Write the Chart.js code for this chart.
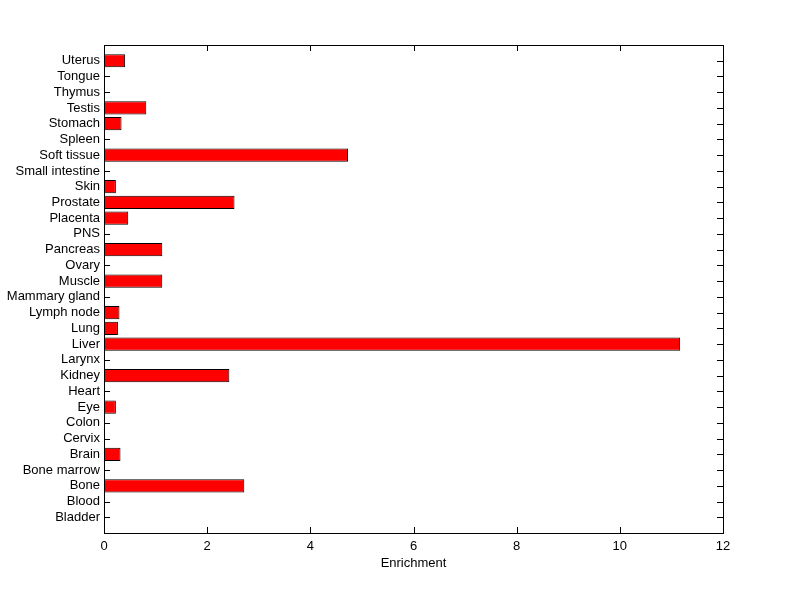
<!DOCTYPE html>
<html>
<head>
<meta charset="utf-8">
<script src="https://cdn.jsdelivr.net/npm/chart.js@4"></script>
<style>
  html, body { margin: 0; padding: 0; background: #fff; }
  #wrap { width: 800px; height: 599px; }
</style>
</head>
<body>
<div id="wrap"><canvas id="barCanvas"></canvas></div>
<script>
// tissues, listed bottom to top as in the figure
const tissues = ["Bladder", "Blood", "Bone", "Bone marrow", "Brain", "Cervix", "Colon", "Eye",
    "Heart", "Kidney", "Larynx", "Liver", "Lung", "Lymph node", "Mammary gland", "Muscle",
    "Ovary", "Pancreas", "PNS", "Placenta", "Prostate", "Skin", "Small intestine",
    "Soft tissue", "Spleen", "Stomach", "Testis", "Thymus", "Tongue", "Uterus"];
const enrichment = [0, 0, 2.72, 0, 0.32, 0, 0, 0.23,
    0, 2.43, 0, 11.17, 0.27, 0.30, 0, 1.13,
    0, 1.13, 0, 0.47, 2.53, 0.23, 0,
    4.73, 0, 0.34, 0.82, 0, 0, 0.41];
const xTickValues = [0, 2, 4, 6, 8, 10, 12];

const TICK = 6;

// matlab style box with inward ticks
const matlabAxes = {
    id: "matlabAxes",
    beforeDatasetsDraw(chart) {
        const ctx = chart.ctx, ca = chart.chartArea;
        const x = chart.scales.x, y = chart.scales.y;
        ctx.save();
        ctx.strokeStyle = "#000";
        ctx.lineWidth = 1;
        ctx.beginPath();
        xTickValues.forEach(v => {
            const px = Math.round(x.getPixelForValue(v)) + 0.5;
            ctx.moveTo(px, ca.bottom); ctx.lineTo(px, ca.bottom - TICK);
            ctx.moveTo(px, ca.top); ctx.lineTo(px, ca.top + TICK);
        });
        tissues.forEach((t, i) => {
            const py = Math.round(y.getPixelForValue(i + 1)) + 0.5;
            ctx.moveTo(ca.left, py); ctx.lineTo(ca.left + TICK, py);
            ctx.moveTo(ca.right, py); ctx.lineTo(ca.right - TICK, py);
        });
        ctx.stroke();
        ctx.restore();
    },
    afterDatasetsDraw(chart) {
        const ctx = chart.ctx, ca = chart.chartArea;
        ctx.save();
        ctx.strokeStyle = "#000";
        ctx.lineWidth = 1;
        ctx.strokeRect(Math.round(ca.left) + 0.5, Math.round(ca.top) + 0.5,
            Math.round(ca.right - ca.left), Math.round(ca.bottom - ca.top));
        ctx.restore();
    }
};

Chart.defaults.font.family = "Arial, 'Liberation Sans', sans-serif";
Chart.defaults.font.size = 13;
Chart.defaults.color = "#000";

const barCanvas = document.getElementById("barCanvas");

new Chart(barCanvas, {
    type: "bar",
    data: {
        datasets: [{
            data: enrichment.map((v, i) => ({ x: v, y: i + 1 })),
            backgroundColor: "#FF0000",
            borderColor: "#000",
            borderWidth: ctx => (ctx.raw && ctx.raw.x > 0 ? 1 : 0),
            borderSkipped: false,
            barPercentage: 0.84,
            categoryPercentage: 1
        }]
    },
    options: {
        indexAxis: "y",
        responsive: true,
        maintainAspectRatio: false,
        animation: false,
        layout: { padding: { left: 0, right: 77, top: 45, bottom: 0 } },
        plugins: {
            legend: { display: false },
            tooltip: { enabled: false }
        },
        scales: {
            x: {
                type: "linear",
                min: 0,
                max: 12,
                grid: { display: false, drawTicks: false },
                border: { display: false },
                ticks: { stepSize: 2, padding: 6 },
                title: { display: true, text: "Enrichment", padding: { top: 2, bottom: 28 } },
                afterFit: s => { s.height = 66; }
            },
            y: {
                type: "linear",
                offset: false,
                min: 0,
                max: tissues.length + 1,
                grid: { display: false, drawTicks: false },
                border: { display: false },
                ticks: {
                    stepSize: 1,
                    autoSkip: false,
                    maxTicksLimit: 40,
                    padding: 4,
                    callback: v => tissues[v - 1] || ""
                },
                afterFit: s => { s.width = 104; }
            }
        }
    },
    plugins: [matlabAxes]
});
</script>
</body>
</html>
